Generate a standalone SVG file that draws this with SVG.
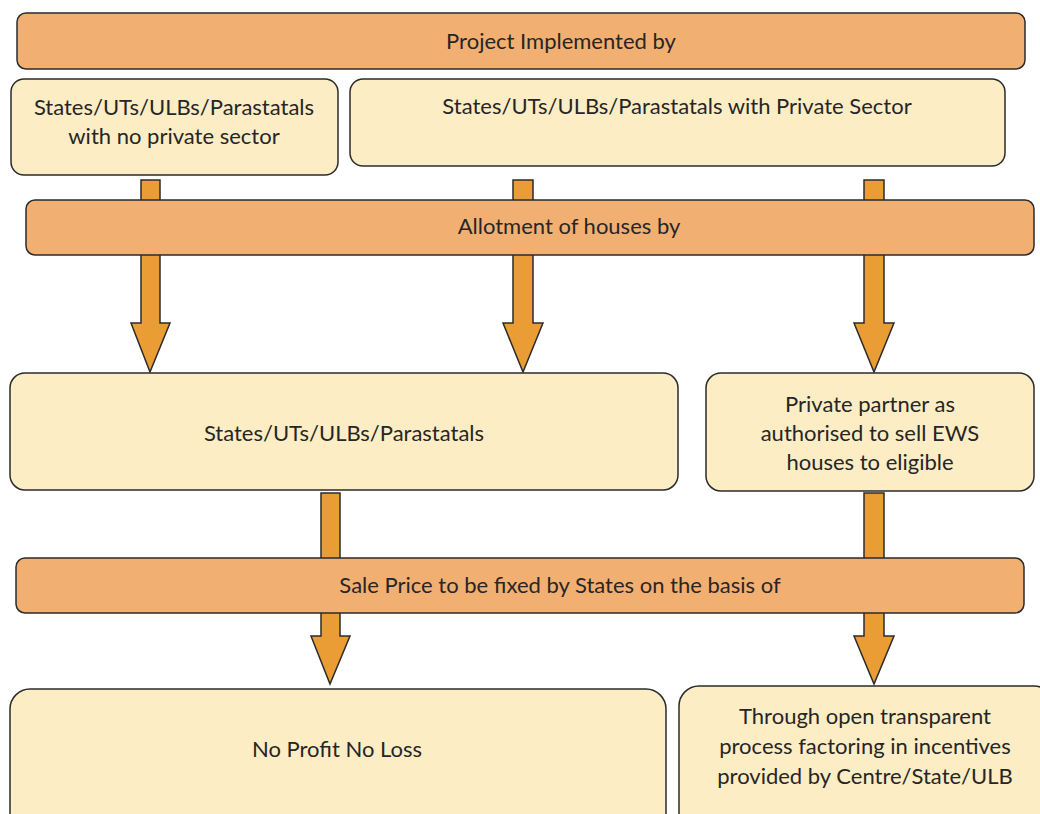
<svg xmlns="http://www.w3.org/2000/svg" width="1040" height="814" viewBox="0 0 1040 814">
<style>
.bar{fill:#F2AF72;stroke:#2b2b2b;stroke-width:1.5}
.box{fill:#FDEDC5;stroke:#2b2b2b;stroke-width:1.5}
.arr{fill:#EA9C35;stroke:#2b2b2b;stroke-width:1.5;stroke-linejoin:miter}
text{font-family:Lato,"Liberation Sans",sans-serif;font-size:22px;fill:#262626;text-anchor:middle}
</style>
<rect width="1040" height="814" fill="#fff"/>
<g id="connectors">
<path class="arr" d="M141,180 H160 V323 H170 L150,372 L131,323 H141 Z"/>
<path class="arr" d="M513,180 H533 V323 H543 L523,372 L503,323 H513 Z"/>
<path class="arr" d="M864,180 H884 V323 H894 L874,372 L854,323 H864 Z"/>
<path class="arr" d="M321,493 H340 V636 H350 L330,684 L311,636 H321 Z"/>
<path class="arr" d="M864,493 H884 V636 H894 L874,684 L854,636 H864 Z"/>
</g>
<g id="project">
<rect class="bar" x="17" y="13" width="1008" height="56" rx="9"/>
<text x="561" y="49">Project Implemented by</text>
</g>
<g id="no-private">
<rect class="box" x="11" y="79" width="327" height="96" rx="13"/>
<text x="174" y="115">States/UTs/ULBs/Parastatals</text>
<text x="174" y="144">with no private sector</text>
</g>
<g id="with-private">
<rect class="box" x="350" y="79" width="655" height="87" rx="13"/>
<text x="677" y="114">States/UTs/ULBs/Parastatals with Private Sector</text>
</g>
<g id="allotment">
<rect class="bar" x="26" y="200" width="1008" height="55" rx="9"/>
<text x="569" y="234">Allotment of houses by</text>
</g>
<g id="states">
<rect class="box" x="10" y="373" width="668" height="117" rx="15"/>
<text x="344" y="441">States/UTs/ULBs/Parastatals</text>
</g>
<g id="private-partner">
<rect class="box" x="706" y="373" width="328" height="118" rx="15"/>
<text x="870" y="412">Private partner as</text>
<text x="870" y="441">authorised to sell EWS</text>
<text x="870" y="470">houses to eligible</text>
</g>
<g id="sale-price">
<rect class="bar" x="16" y="558" width="1008" height="55" rx="9"/>
<text x="560" y="593">Sale Price to be fixed by States on the basis of</text>
</g>
<g id="no-profit">
<rect class="box" x="10" y="689" width="656" height="150" rx="20"/>
<text x="337" y="757">No Profit No Loss</text>
</g>
<g id="transparent">
<rect class="box" x="679" y="686" width="375" height="150" rx="20"/>
<text x="865" y="724">Through open transparent</text>
<text x="865" y="754">process factoring in incentives</text>
<text x="865" y="784">provided by Centre/State/ULB</text>
</g>
</svg>
